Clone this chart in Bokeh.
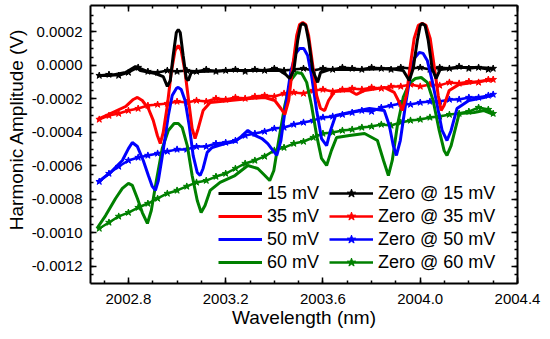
import math
from bokeh.plotting import figure
from bokeh.models import (FixedTicker, PrintfTickFormatter, LinearAxis, Legend, LegendItem,
                          Title, CustomJSTickFormatter)
from bokeh.embed import file_html
from bokeh.resources import INLINE

FONT = "Liberation Sans"

# ---------------- data ----------------
x_ticks = [2002.8, 2003.2, 2003.6, 2004.0, 2004.4]
x_minor = [2002.7, 2002.8, 2002.9, 2003.0, 2003.1, 2003.2, 2003.3, 2003.4, 2003.5, 2003.6,
           2003.7, 2003.8, 2003.9, 2004.0, 2004.1, 2004.2, 2004.3, 2004.4]
y_ticks = [0.0002, 0.0, -0.0002, -0.0004, -0.0006, -0.0008, -0.0010, -0.0012]
y_minor = [0.0003, 0.00025, 0.0002, 0.00015, 0.0001, 0.00005, 0.0, -0.00005, -0.0001, -0.00015,
           -0.0002, -0.00025, -0.0003, -0.00035, -0.0004, -0.00045, -0.0005, -0.00055, -0.0006,
           -0.00065, -0.0007, -0.00075, -0.0008, -0.00085, -0.0009, -0.00095, -0.001, -0.00105,
           -0.0011, -0.00115, -0.0012, -0.00125]

labels = ["15 mV", "35 mV", "50 mV", "60 mV"]
zero_labels = ["Zero @ 15 mV", "Zero @ 35 mV", "Zero @ 50 mV", "Zero @ 60 mV"]
colors = ["#000000", "#ff0000", "#0000ff", "#008000"]

wl_15 = [2002.673, 2002.726, 2002.788, 2002.829, 2002.849, 2002.911, 2002.943, 2002.960, 2002.972,
         2002.984, 2002.997, 2003.005, 2003.013, 2003.025, 2003.038, 2003.046, 2003.058, 2003.095,
         2003.218, 2003.341, 2003.422, 2003.447, 2003.463, 2003.480, 2003.496, 2003.508, 2003.517,
         2003.529, 2003.541, 2003.558, 2003.578, 2003.590, 2003.627, 2003.750, 2003.873, 2003.930,
         2003.955, 2003.971, 2003.988, 2004.000, 2004.008, 2004.020, 2004.033, 2004.049, 2004.065,
         2004.082, 2004.160, 2004.241, 2004.303]
amp_15 = [-0.000060, -0.000060, -0.000042, -0.000006, -0.000030, -0.000048, -0.000066, -0.000125,
          -0.000090, 0.000060, 0.000197, 0.000215, 0.000197, 0.000060, -0.000078, -0.000090,
          -0.000042, -0.000036, -0.000030, -0.000030, -0.000030, -0.000054, -0.000078, -0.000030,
          0.000149, 0.000239, 0.000251, 0.000239, 0.000149, -0.000030, -0.000101, -0.000042,
          -0.000024, -0.000024, -0.000018, -0.000030, -0.000090, -0.000018, 0.000149, 0.000239,
          0.000251, 0.000239, 0.000149, -0.000018, -0.000078, -0.000024, -0.000012, -0.000012,
          -0.000018]

wl_35 = [2002.673, 2002.726, 2002.788, 2002.820, 2002.837, 2002.857, 2002.882, 2002.902, 2002.919,
         2002.931, 2002.943, 2002.960, 2002.976, 2002.992, 2003.005, 2003.017, 2003.033, 2003.050,
         2003.062, 2003.074, 2003.087, 2003.107, 2003.136, 2003.218, 2003.300, 2003.361, 2003.402,
         2003.427, 2003.443, 2003.459, 2003.476, 2003.492, 2003.504, 2003.517, 2003.529, 2003.541,
         2003.558, 2003.574, 2003.590, 2003.607, 2003.623, 2003.648, 2003.709, 2003.738, 2003.771,
         2003.852, 2003.893, 2003.914, 2003.926, 2003.943, 2003.959, 2003.975, 2003.992, 2004.008,
         2004.024, 2004.041, 2004.057, 2004.074, 2004.086, 2004.098, 2004.119, 2004.160, 2004.241,
         2004.303]
amp_35 = [-0.000322, -0.000287, -0.000245, -0.000203, -0.000191, -0.000209, -0.000257, -0.000328,
          -0.000418, -0.000466, -0.000400, -0.000239, -0.000042, 0.000090, 0.000119, 0.000090,
          -0.000042, -0.000239, -0.000376, -0.000436, -0.000376, -0.000269, -0.000221, -0.000209,
          -0.000197, -0.000191, -0.000209, -0.000257, -0.000293, -0.000209, 0.0, 0.000179,
          0.000245, 0.000257, 0.000245, 0.000179, 0.0, -0.000179, -0.000257, -0.000269, -0.000209,
          -0.000155, -0.000149, -0.000173, -0.000149, -0.000131, -0.000161, -0.000221, -0.000269,
          -0.000179, 0.0, 0.000161, 0.000239, 0.000251, 0.000239, 0.000161, 0.0, -0.000179,
          -0.000269, -0.000239, -0.000149, -0.000113, -0.000096, -0.000084]

wl_50 = [2002.673, 2002.726, 2002.775, 2002.800, 2002.816, 2002.837, 2002.861, 2002.882, 2002.898,
         2002.911, 2002.923, 2002.943, 2002.964, 2002.980, 2002.997, 2003.005, 2003.017, 2003.033,
         2003.050, 2003.066, 2003.083, 2003.095, 2003.107, 2003.124, 2003.144, 2003.197, 2003.238,
         2003.259, 2003.291, 2003.320, 2003.349, 2003.373, 2003.394, 2003.410, 2003.427, 2003.447,
         2003.467, 2003.488, 2003.504, 2003.521, 2003.537, 2003.553, 2003.574, 2003.594, 2003.615,
         2003.631, 2003.652, 2003.709, 2003.791, 2003.852, 2003.873, 2003.889, 2003.902, 2003.918,
         2003.939, 2003.959, 2003.975, 2003.996, 2004.012, 2004.029, 2004.049, 2004.070, 2004.090,
         2004.110, 2004.127, 2004.151, 2004.200, 2004.262, 2004.303]
amp_50 = [-0.000698, -0.000639, -0.000567, -0.000496, -0.000460, -0.000484, -0.000567, -0.000657,
          -0.000722, -0.000746, -0.000687, -0.000507, -0.000299, -0.000179, -0.000137, -0.000131,
          -0.000143, -0.000209, -0.000358, -0.000537, -0.000639, -0.000657, -0.000615, -0.000519,
          -0.000490, -0.000466, -0.000454, -0.000430, -0.000388, -0.000418, -0.000436, -0.000466,
          -0.000507, -0.000537, -0.000448, -0.000239, -0.000042, 0.000072, 0.000101, 0.000101,
          0.000060, -0.000060, -0.000269, -0.000436, -0.000478, -0.000388, -0.000299, -0.000281,
          -0.000257, -0.000269, -0.000358, -0.000478, -0.000537, -0.000448, -0.000239, -0.000060,
          0.000042, 0.000078, 0.000072, 0.000030, -0.000090, -0.000239, -0.000388, -0.000448,
          -0.000388, -0.000257, -0.000209, -0.000191, -0.000173]

wl_60 = [2002.673, 2002.706, 2002.747, 2002.775, 2002.800, 2002.816, 2002.837, 2002.857, 2002.878,
         2002.894, 2002.915, 2002.939, 2002.964, 2002.988, 2003.005, 2003.021, 2003.042, 2003.062,
         2003.083, 2003.099, 2003.115, 2003.136, 2003.177, 2003.238, 2003.291, 2003.332, 2003.361,
         2003.381, 2003.398, 2003.418, 2003.443, 2003.467, 2003.492, 2003.513, 2003.533, 2003.553,
         2003.574, 2003.594, 2003.615, 2003.635, 2003.656, 2003.709, 2003.771, 2003.824, 2003.849,
         2003.869, 2003.885, 2003.906, 2003.930, 2003.955, 2003.980, 2004.004, 2004.029, 2004.053,
         2004.078, 2004.098, 2004.110, 2004.127, 2004.160, 2004.221, 2004.262, 2004.303]
amp_60 = [-0.000967, -0.000896, -0.000794, -0.000734, -0.000704, -0.000716, -0.000794, -0.000878,
          -0.000943, -0.000866, -0.000687, -0.000496, -0.000388, -0.000346, -0.000346, -0.000370,
          -0.000478, -0.000657, -0.000806, -0.000878, -0.000836, -0.000746, -0.000698, -0.000657,
          -0.000597, -0.000615, -0.000657, -0.000687, -0.000627, -0.000448, -0.000239, -0.000090,
          -0.000042, -0.000048, -0.000101, -0.000239, -0.000418, -0.000555, -0.000597, -0.000507,
          -0.000430, -0.000418, -0.000406, -0.000448, -0.000567, -0.000657, -0.000567, -0.000358,
          -0.000191, -0.000107, -0.000078, -0.000072, -0.000101, -0.000209, -0.000388, -0.000507,
          -0.000537, -0.000478, -0.000287, -0.000281, -0.000269, -0.000293]

zero_wl = [2002.68, 2002.72, 2002.76, 2002.80, 2002.84, 2002.88, 2002.92, 2002.96, 2003.00, 2003.04,
           2003.08, 2003.12, 2003.16, 2003.20, 2003.24, 2003.28, 2003.32, 2003.36, 2003.40, 2003.44,
           2003.48, 2003.52, 2003.56, 2003.60, 2003.64, 2003.68, 2003.72, 2003.76, 2003.80, 2003.84,
           2003.88, 2003.92, 2003.96, 2004.00, 2004.04, 2004.08, 2004.12, 2004.16, 2004.20, 2004.24,
           2004.28, 2004.30]
zero_15 = [-0.000060, -0.000054, -0.000060, -0.000042, -0.000012, -0.000036, -0.000042, -0.000030,
           -0.000036, -0.000030, -0.000036, -0.000024, -0.000036, -0.000030, -0.000024, -0.000036,
           -0.000024, -0.000030, -0.000018, -0.000030, -0.000024, -0.000018, -0.000030, -0.000018,
           -0.000024, -0.000012, -0.000018, -0.000024, -0.000012, -0.000018, -0.000024, -0.000012,
           -0.000018, -0.000012, -0.000024, -0.000012, -0.000018, -0.000006, -0.000018, -0.000012,
           -0.000024, -0.000018]
zero_35 = [-0.000322, -0.000299, -0.000287, -0.000269, -0.000257, -0.000239, -0.000233, -0.000227,
           -0.000215, -0.000221, -0.000209, -0.000215, -0.000197, -0.000203, -0.000191, -0.000197,
           -0.000185, -0.000179, -0.000185, -0.000167, -0.000161, -0.000167, -0.000149, -0.000143,
           -0.000155, -0.000143, -0.000137, -0.000143, -0.000131, -0.000137, -0.000125, -0.000125,
           -0.000113, -0.000125, -0.000113, -0.000119, -0.000101, -0.000107, -0.000096, -0.000101,
           -0.000084, -0.000084]
zero_50 = [-0.000693, -0.000645, -0.000603, -0.000567, -0.000549, -0.000537, -0.000525, -0.000513,
           -0.000501, -0.000501, -0.000484, -0.000484, -0.000466, -0.000460, -0.000448, -0.000418,
           -0.000406, -0.000394, -0.000376, -0.000370, -0.000352, -0.000340, -0.000328, -0.000310,
           -0.000304, -0.000293, -0.000281, -0.000269, -0.000275, -0.000251, -0.000239, -0.000227,
           -0.000233, -0.000221, -0.000215, -0.000215, -0.000203, -0.000203, -0.000191, -0.000191,
           -0.000179, -0.000173]
zero_60 = [-0.000973, -0.000937, -0.000901, -0.000878, -0.000848, -0.000824, -0.000794, -0.000764,
           -0.000746, -0.000722, -0.000698, -0.000687, -0.000663, -0.000645, -0.000615, -0.000585,
           -0.000567, -0.000543, -0.000507, -0.000490, -0.000466, -0.000454, -0.000430, -0.000406,
           -0.000400, -0.000388, -0.000382, -0.000370, -0.000364, -0.000352, -0.000358, -0.000340,
           -0.000328, -0.000322, -0.000310, -0.000304, -0.000293, -0.000287, -0.000275, -0.000251,
           -0.000263, -0.000287]

signals = [(wl_15, amp_15), (wl_35, amp_35), (wl_50, amp_50), (wl_60, amp_60)]
zeros = [zero_15, zero_35, zero_50, zero_60]

# ---------------- figure ----------------
p = figure(width=550, height=339, x_range=(2002.644, 2004.4), y_range=(-0.0013015, 0.000358),
           output_backend="svg", toolbar_location=None,
           min_border_left=90, min_border_right=33, min_border_top=5, min_border_bottom=56)
p.xgrid.visible = False
p.ygrid.visible = False
p.outline_line_color = None
p.background_fill_color = "white"
p.border_fill_color = "white"


def style_axis(ax, show_labels):
    ax.axis_line_width = 2
    ax.axis_line_color = "black"
    ax.major_tick_in = 6
    ax.major_tick_out = 0
    ax.minor_tick_in = 3
    ax.minor_tick_out = 0
    ax.major_tick_line_width = 1.5
    ax.minor_tick_line_width = 1.5
    ax.major_tick_line_color = "black"
    ax.minor_tick_line_color = "black"
    if show_labels:
        ax.major_label_text_font = FONT
        ax.major_label_text_font_size = "15px"
        ax.major_label_text_color = "black"
    else:
        ax.major_label_text_font_size = "0px"
        ax.major_label_standoff = 0
        ax.formatter = CustomJSTickFormatter(code="return ''")


xt = FixedTicker(ticks=x_ticks, minor_ticks=x_minor)
yt = FixedTicker(ticks=y_ticks, minor_ticks=y_minor)

p.xaxis.ticker = xt
p.yaxis.ticker = yt
p.xaxis.formatter = PrintfTickFormatter(format="%.1f")
p.yaxis.formatter = PrintfTickFormatter(format="%.4f")
for ax in p.xaxis:
    style_axis(ax, True)
    ax.major_label_standoff = 10
    ax.axis_label = "Wavelength (nm)"
    ax.axis_label_text_font = FONT
    ax.axis_label_text_font_size = "19px"
    ax.axis_label_text_font_style = "normal"
    ax.axis_label_text_color = "black"
    ax.axis_label_standoff = 0
for ax in p.yaxis:
    style_axis(ax, True)
    ax.major_label_standoff = 8

top_ax = LinearAxis(ticker=xt)
style_axis(top_ax, False)
p.add_layout(top_ax, "above")
right_ax = LinearAxis(ticker=yt)
style_axis(right_ax, False)
p.add_layout(right_ax, "right")

ytitle = Title(text="Harmonic Amplitude (V)", align="right", offset=23,
               text_font=FONT, text_font_size="19px", text_font_style="normal",
               text_color="black", standoff=4)
p.add_layout(ytitle, "left")

zero_items = []
sig_items = []
zero_renderers = []
for z, c in zip(zeros, colors):
    rl = p.line(zero_wl, z, line_color=c, line_width=2.5)
    rs = p.scatter(zero_wl, z, marker="star", size=7, line_color=c, fill_color=c, line_width=1)
    zero_renderers.append([rl, rs])

sig_renderers = [None] * 4
for i in [3, 2, 1, 0]:
    wl, amp = signals[i]
    sig_renderers[i] = p.line(wl, amp, line_color=colors[i], line_width=3)

for i in range(4):
    sig_items.append(LegendItem(label=labels[i], renderers=[sig_renderers[i]]))
    zero_items.append(LegendItem(label=zero_labels[i], renderers=zero_renderers[i]))


def make_legend(items, loc):
    lg = Legend(items=items, location=loc, orientation="vertical",
                label_text_font=FONT, label_text_font_size="18px", label_text_color="black",
                glyph_width=44, glyph_height=22, label_height=22, label_standoff=5, spacing=1,
                padding=0, margin=0, border_line_color=None, background_fill_alpha=0)
    return lg


p.add_layout(make_legend(sig_items, (128, 10)))
p.add_layout(make_legend(zero_items, (239, 10)))

open("out.html", "w").write(file_html(p, INLINE))
